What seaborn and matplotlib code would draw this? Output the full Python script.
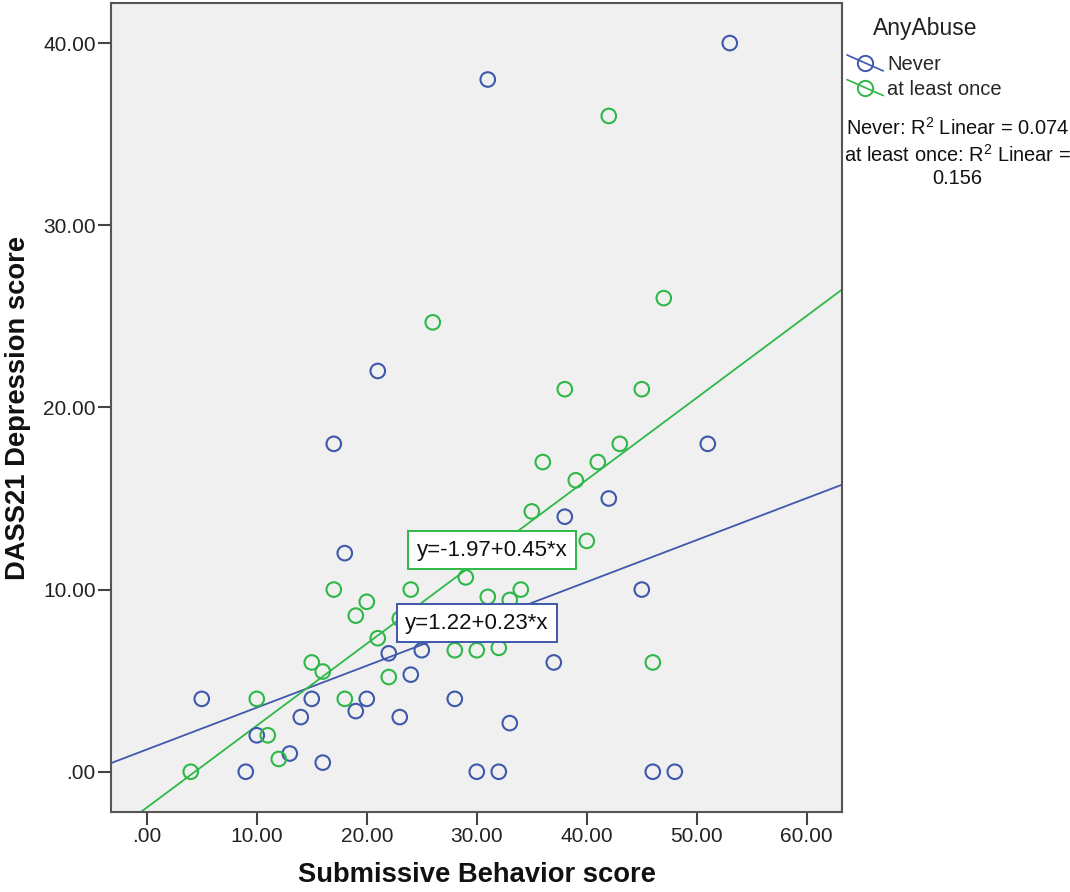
import numpy as np
import pandas as pd
import matplotlib
matplotlib.use("Agg")
import matplotlib.pyplot as plt
import seaborn as sns
from matplotlib.lines import Line2D
from matplotlib.legend_handler import HandlerBase

# =============================================================================
# DATA
# =============================================================================

never_x = [53, 31, 21, 17, 51, 42, 38, 18, 45, 22, 25, 37, 5, 15, 20, 28, 24,
           14, 19, 23, 33, 13, 16, 10, 9, 30, 32, 46, 48]
never_y = [40, 38, 22, 18, 18, 15, 14, 12, 10, 6.5, 6.67, 6, 4, 4, 4, 4, 5.33,
           3, 3.33, 3, 2.67, 1, 0.5, 2, 0, 0, 0, 0, 0]

once_x = [42, 47, 26, 38, 45, 43, 36, 41, 39, 35, 40, 17, 24, 34, 29, 31, 33,
          20, 19, 23, 21, 28, 30, 32, 15, 46, 16, 22, 18, 10, 11, 12, 4]
once_y = [36, 26, 24.67, 21, 21, 18, 17, 17, 16, 14.29, 12.67, 10, 10, 10, 10.67,
          9.6, 9.43, 9.33, 8.57, 8.4, 7.33, 6.67, 6.67, 6.8, 6, 6, 5.5, 5.2, 4, 4,
          2, 0.7, 0]

groups = ["Never", "at least once"]
fit_intercept = [1.22, -1.97]
fit_slope = [0.23, 0.45]
fit_r2 = [0.074, 0.156]
fit_label_pos = [(30.0, 8.15), (31.4, 12.15)]

x_ticks = [0, 10, 20, 30, 40, 50, 60]
y_ticks = [0, 10, 20, 30, 40]

BLUE = "#3E58AC"
GREEN = "#2EB848"
colors = [BLUE, GREEN]

df = pd.DataFrame({
    "score": never_x + once_x,
    "dep": never_y + once_y,
    "AnyAbuse": [groups[0]] * len(never_x) + [groups[1]] * len(once_x),
})


class SlantHandler(HandlerBase):
    # SPSS draws the fit line diagonally through the legend marker
    def create_artists(self, legend, orig_handle, xdescent, ydescent, width,
                       height, fontsize, trans):
        x0, x1 = -xdescent, -xdescent + width
        yc = -ydescent + height / 2
        dy = width * 0.22
        c = orig_handle.get_color()
        ln = Line2D([x0, x1], [yc + dy, yc - dy], color=c,
                    lw=orig_handle.get_linewidth(), transform=trans)
        mk = Line2D([(x0 + x1) / 2], [yc], marker="o", ls="none", mfc="none",
                    mec=c, ms=orig_handle.get_markersize(),
                    mew=orig_handle.get_markeredgewidth(), transform=trans)
        return [ln, mk]


# =============================================================================
# PLOT
# =============================================================================

sns.set_theme(style="white")
plt.rcParams['font.family'] = ['Liberation Sans', 'DejaVu Sans']
plt.rcParams['mathtext.default'] = 'regular'

fig = plt.figure(figsize=(10.7, 8.92), dpi=100)
ax = fig.add_axes([111 / 1070, 1 - 812 / 892, 731 / 1070, 809 / 892])
ax.set_facecolor("#F0F0F0")

sns.scatterplot(data=df, x="score", y="dep", hue="AnyAbuse", hue_order=groups,
                palette=colors, s=110, linewidth=1.5, legend=False, ax=ax, zorder=3)
# hollow circles like SPSS
for coll in ax.collections:
    fc = coll.get_facecolors()
    coll.set_edgecolors(fc)
    coll.set_facecolors("none")

for b, m, c, (tx, ty) in zip(fit_intercept, fit_slope, colors, fit_label_pos):
    ax.axline((0, b), slope=m, color=c, lw=1.3, zorder=2)
    ax.text(tx, ty, f"y={b:.2f}+{m:.2f}*x", ha="center", va="center", fontsize=16,
            color="#111", zorder=4,
            bbox=dict(boxstyle="square,pad=0.38", fc="white", ec=c, lw=1.4))

ax.set_xlim(-3.25, 63.2)
ax.set_ylim(-2.21, 42.2)
ax.set_xticks(x_ticks)
ax.set_yticks(y_ticks)
ax.set_xticklabels([f"{v:.2f}".lstrip("0") for v in x_ticks])
ax.set_yticklabels([f"{v:.2f}".lstrip("0") for v in y_ticks])
ax.tick_params(bottom=True, left=True, direction="out", length=9.5, width=1.5,
               color="#444", labelsize=15, labelcolor="#222", pad=1.5)
for sp in ax.spines.values():
    sp.set_visible(True)
    sp.set_color("#555")
    sp.set_linewidth(1.5)

ax.set_xlabel("Submissive Behavior score", fontsize=19.7, fontweight="bold",
              color="#111", labelpad=11)
ax.set_ylabel("DASS21 Depression score", fontsize=19.7, fontweight="bold",
              color="#111", labelpad=9)

handles = [Line2D([0], [0], color=c, lw=1.2, marker="o", mfc="none", mec=c,
                  ms=11, mew=1.4) for c in colors]
fig.text(925 / 1070, 1 - 28 / 892, "AnyAbuse", ha="center", va="center",
         fontsize=16.5, color="#222")
fig.legend(handles, groups, loc="upper left", handler_map={Line2D: SlantHandler()},
           bbox_to_anchor=(847 / 1070, 1 - 55 / 892), frameon=False, fontsize=14.5,
           handlelength=1.8, handletextpad=0.2, labelspacing=0.28,
           borderaxespad=0, borderpad=0)

fig.text(957 / 1070, 1 - 128 / 892, f"{groups[0]}: R$^2$ Linear = {fit_r2[0]:.3f}",
         ha="center", va="center", fontsize=14.4, color="#111")
fig.text(957 / 1070, 1 - 155 / 892, f"{groups[1]}: R$^2$ Linear =",
         ha="center", va="center", fontsize=14.4, color="#111")
fig.text(957 / 1070, 1 - 178 / 892, f"{fit_r2[1]:.3f}",
         ha="center", va="center", fontsize=14.4, color="#111")

fig.savefig("out.png", dpi=100)
